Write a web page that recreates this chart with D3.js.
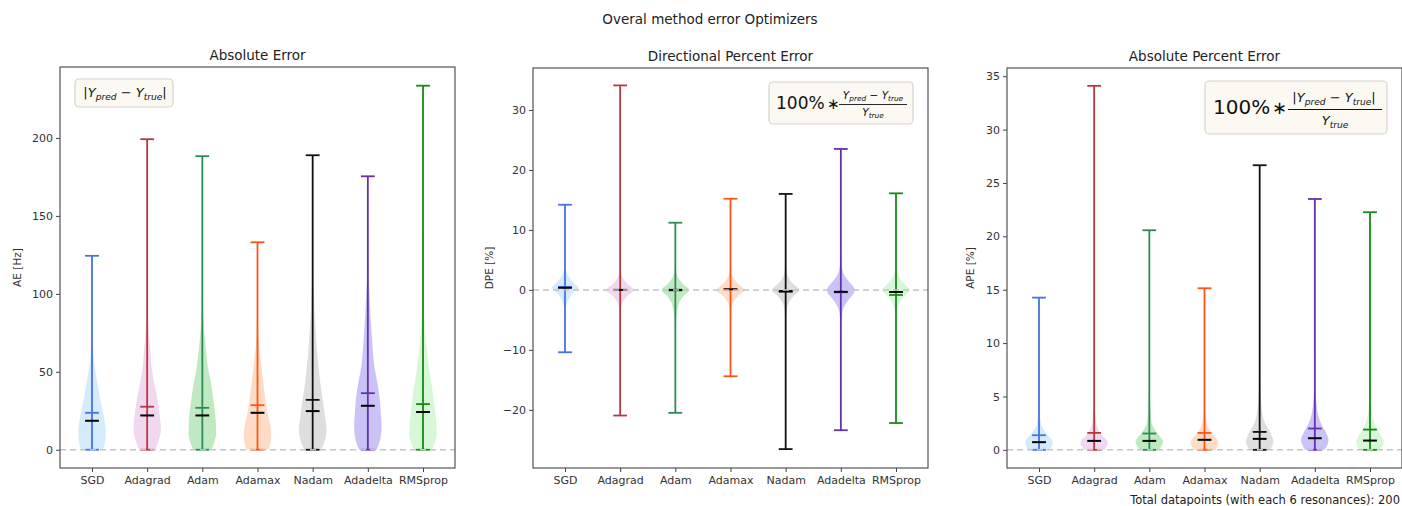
<!DOCTYPE html>
<html>
<head>
<meta charset="utf-8">
<script src="https://cdn.jsdelivr.net/npm/d3@7"></script>
<style>
  body { margin: 0; background: #fff; }
  svg { display: block; font-family: "DejaVu Sans", sans-serif; }
</style>
</head>
<body>
<svg id="fig" width="1402" height="506"></svg>
<script>
// Optimizers compared in every panel
const categories = ["SGD", "Adagrad", "Adam", "Adamax", "Nadam", "Adadelta", "RMSprop"];
const lineColors = ["#4673e0", "#b8393c", "#2e8b57", "#ff5414", "#111111", "#6630b0", "#168a16"];
const fillColors = ["#d4ebfb", "#f1d8f0", "#bfe9c0", "#fcdcc6", "#dedede", "#cac3f6", "#d6f8d6"];

// Absolute error [Hz]
const aeMin    = [0, 0, 0, 0, 0, 0, 0];
const aeMax    = [124.4, 199.2, 188.3, 133.1, 188.9, 175.4, 233.5];
const aeMean   = [23.7, 27.6, 26.9, 28.6, 32.0, 36.3, 29.3];
const aeMedian = [18.6, 22.0, 22.0, 23.7, 24.8, 28.2, 24.2];
const aeTicks  = [0, 50, 100, 150, 200];
// density outline: [value, relative half-width]
const aeProfiles = [
  [[0,0.8],[5,0.95],[11,1],[20,0.88],[32,0.6],[43,0.39],[53,0.2],[62,0.1],[75,0.04],[90,0.02],[110,0.01],[124.4,0]],
  [[0,0.57],[5,0.8],[12.8,1],[21,0.92],[32,0.75],[43,0.51],[53,0.32],[64,0.22],[75,0.12],[85,0.06],[100,0.03],[130,0.01],[199.2,0]],
  [[0,0.65],[5,0.88],[11,1],[21,0.95],[32,0.8],[43,0.62],[53,0.4],[64,0.26],[75,0.14],[85,0.07],[96,0.04],[120,0.02],[150,0.01],[188.3,0]],
  [[0,0.79],[4,0.93],[9,1],[17,0.9],[25.6,0.68],[34,0.55],[43,0.42],[58,0.23],[68.6,0.1],[80,0.05],[100,0.02],[133.1,0]],
  [[0,0.6],[5,0.85],[12.8,1],[21,0.9],[32,0.73],[43,0.55],[53,0.43],[64,0.3],[75,0.23],[85,0.15],[96,0.1],[110,0.05],[140,0.02],[160,0.01],[188.9,0]],
  [[0,0.63],[6,0.88],[14.7,1],[22,0.95],[32,0.87],[43,0.69],[53,0.48],[64,0.36],[75,0.27],[85,0.2],[96,0.14],[110,0.07],[130,0.03],[150,0.01],[175.4,0]],
  [[0,0.66],[5,0.88],[11,1],[21,0.92],[32,0.78],[43,0.6],[53,0.42],[64,0.28],[75,0.17],[85,0.1],[96,0.06],[120,0.03],[160,0.01],[233.5,0]]
];

// Directional percent error [%]
const dpeMin    = [-10.4, -20.95, -20.5, -14.4, -26.55, -23.4, -22.2];
const dpeMax    = [14.2, 34.1, 11.2, 15.2, 16.0, 23.5, 16.1];
const dpeMean   = [0.5, 0.0, -0.1, 0.1, -0.3, -0.4, -0.85];
const dpeMedian = [0.35, 0.0, 0.0, 0.1, -0.2, -0.3, -0.35];
const dpeTicks  = [-20, -10, 0, 10, 20, 30];
const dpeProfiles = [
  [[-10.4,0],[-6,0.01],[-4,0.03],[-3,0.07],[-2,0.18],[-1,0.42],[0,0.8],[0.3,1],[1,0.72],[2,0.33],[3,0.12],[4,0.05],[6,0.02],[10,0.01],[14.2,0]],
  [[-20.95,0],[-10,0.01],[-5,0.02],[-3,0.06],[-2,0.2],[-1,0.52],[0,1],[1,0.52],[2,0.2],[3,0.06],[5,0.02],[15,0.01],[34.1,0]],
  [[-20.5,0],[-8,0.02],[-5,0.05],[-4,0.1],[-3,0.17],[-2,0.3],[-1,0.6],[0,1],[1,0.55],[2,0.22],[3,0.07],[5,0.02],[11.2,0]],
  [[-14.4,0],[-6,0.02],[-3,0.07],[-2,0.22],[-1,0.55],[0,1],[1,0.55],[2,0.22],[3,0.07],[6,0.02],[15.2,0]],
  [[-26.55,0],[-10,0.01],[-5,0.04],[-3,0.1],[-2,0.25],[-1,0.58],[0,1],[1,0.55],[2,0.22],[3,0.08],[5,0.03],[16,0]],
  [[-23.4,0],[-10,0.01],[-5,0.05],[-3.5,0.12],[-2.5,0.3],[-1.5,0.6],[-0.5,0.95],[0,1],[0.5,0.92],[1.5,0.55],[2.5,0.25],[3.5,0.1],[5,0.04],[10,0.01],[23.5,0]],
  [[-22.2,0],[-8,0.02],[-4,0.06],[-3,0.12],[-2,0.3],[-1,0.62],[0,1],[1,0.6],[2,0.28],[3,0.1],[4,0.04],[8,0.01],[16.1,0]]
];

// Absolute percent error [%]
const apeMin    = [0, 0, 0, 0, 0, 0, 0];
const apeMax    = [14.26, 34.1, 20.57, 15.14, 26.66, 23.5, 22.26];
const apeMean   = [1.37, 1.59, 1.53, 1.59, 1.68, 2.0, 1.9];
const apeMedian = [0.72, 0.84, 0.84, 0.94, 1.03, 1.09, 0.87];
const apeTicks  = [0, 5, 10, 15, 20, 25, 30, 35];
const apeProfiles = [
  [[0,0.8],[0.3,0.9],[0.62,1],[0.94,0.93],[1.25,0.73],[1.6,0.5],[2.2,0.2],[2.8,0.1],[4,0.04],[6,0.02],[10,0.01],[14.26,0]],
  [[0,0.75],[0.3,0.88],[0.6,1],[0.95,0.9],[1.3,0.62],[1.87,0.3],[2.8,0.12],[3.75,0.06],[6,0.03],[12,0.01],[34.1,0]],
  [[0,0.7],[0.4,0.9],[0.78,1],[1.2,0.8],[1.7,0.5],[2.2,0.25],[2.8,0.14],[3.75,0.08],[4.7,0.05],[8,0.02],[14,0.01],[20.57,0]],
  [[0,0.8],[0.3,0.92],[0.65,1],[1.0,0.9],[1.4,0.65],[1.9,0.35],[2.6,0.15],[3.5,0.07],[5,0.03],[9,0.01],[15.14,0]],
  [[0,0.75],[0.4,0.92],[0.78,1],[1.2,0.9],[1.7,0.75],[2.2,0.5],[2.8,0.3],[3.4,0.2],[4.05,0.14],[4.7,0.1],[6,0.05],[10,0.02],[18,0.01],[26.66,0]],
  [[0,0.7],[0.5,0.92],[0.94,1],[1.3,0.92],[1.7,0.78],[2.2,0.55],[2.8,0.35],[3.4,0.22],[4.05,0.15],[4.7,0.1],[6,0.05],[10,0.02],[16,0.01],[23.5,0]],
  [[0,0.75],[0.4,0.92],[0.78,1],[1.2,0.85],[1.7,0.6],[2.2,0.4],[2.8,0.25],[3.4,0.15],[4.05,0.1],[5,0.06],[8,0.02],[14,0.01],[22.26,0]]
];

const svg = d3.select("#fig");
const violinHalf = 0.25;   // half of violin width in x units
const capHalf = 0.125;     // half length of extrema / mean / median lines

const panels = [
  { title: "Absolute Error", ylabel: "AE [Hz]", left: 60, right: 455, top: 67, bottom: 468,
    yDomain: [-11.7, 245.5], ticks: aeTicks, min: aeMin, max: aeMax, mean: aeMean, median: aeMedian,
    profiles: aeProfiles, labelX: 17 },
  { title: "Directional Percent Error", ylabel: "DPE [%]", left: 533, right: 928, top: 68, bottom: 468,
    yDomain: [-29.7, 37.0], ticks: dpeTicks, min: dpeMin, max: dpeMax, mean: dpeMean, median: dpeMedian,
    profiles: dpeProfiles, labelX: 489 },
  { title: "Absolute Percent Error", ylabel: "APE [%]", left: 1007, right: 1402, top: 68, bottom: 468,
    yDomain: [-1.7, 35.77], ticks: apeTicks, min: apeMin, max: apeMax, mean: apeMean, median: apeMedian,
    profiles: apeProfiles, labelX: 970 }
];

// figure title
svg.append("text").attr("x", 710).attr("y", 24).attr("text-anchor", "middle")
  .attr("font-size", 13.5).attr("fill", "#222").text("Overal method error Optimizers");

panels.forEach(p => {
  const x = d3.scaleLinear().domain([0.42, 7.58]).range([p.left, p.right]);
  const y = d3.scaleLinear().domain(p.yDomain).range([p.bottom, p.top]);
  const g = svg.append("g");
  const unit = x(1) - x(0);

  // violin bodies
  categories.forEach((c, i) => {
    const cx = x(i + 1);
    const area = d3.area()
      .y(d => y(d[0]))
      .x0(d => cx - d[1] * violinHalf * unit)
      .x1(d => cx + d[1] * violinHalf * unit)
      .curve(d3.curveMonotoneY);
    g.append("path").attr("d", area(p.profiles[i]))
      .attr("fill", fillColors[i]).attr("stroke", "none");
  });

  // extrema bars, means and medians
  categories.forEach((c, i) => {
    const cx = x(i + 1);
    const hl = capHalf * unit;
    const col = lineColors[i];
    g.append("line").attr("x1", cx).attr("x2", cx)
      .attr("y1", y(p.min[i])).attr("y2", y(p.max[i]))
      .attr("stroke", col).attr("stroke-width", 1.8);
    [p.min[i], p.max[i], p.mean[i]].forEach(v => {
      g.append("line").attr("x1", cx - hl).attr("x2", cx + hl)
        .attr("y1", y(v)).attr("y2", y(v))
        .attr("stroke", col).attr("stroke-width", 1.8);
    });
    g.append("line").attr("x1", cx - hl).attr("x2", cx + hl)
      .attr("y1", y(p.median[i])).attr("y2", y(p.median[i]))
      .attr("stroke", "#000").attr("stroke-width", 2);
  });

  // zero reference line
  g.append("line").attr("x1", p.left).attr("x2", p.right)
    .attr("y1", y(0)).attr("y2", y(0))
    .attr("stroke", "#c4c4c4").attr("stroke-width", 1.5).attr("stroke-dasharray", "6,4");

  // frame
  g.append("rect").attr("x", p.left).attr("y", p.top)
    .attr("width", p.right - p.left).attr("height", p.bottom - p.top)
    .attr("fill", "none").attr("stroke", "#444").attr("stroke-width", 1.1);

  // axes
  const yAxis = g.append("g").attr("transform", `translate(${p.left},0)`)
    .call(d3.axisLeft(y).tickValues(p.ticks).tickSize(4).tickPadding(3).tickFormat(d => d < 0 ? "\u2212" + Math.abs(d) : d));
  const xAxis = g.append("g").attr("transform", `translate(0,${p.bottom})`)
    .call(d3.axisBottom(x).tickValues(d3.range(1, 8)).tickSize(4).tickPadding(4).tickFormat(d => categories[d - 1]));
  [yAxis, xAxis].forEach(a => {
    a.select(".domain").remove();
    a.selectAll(".tick line").attr("stroke", "#444");
    a.selectAll(".tick text").attr("font-size", 11).attr("fill", "#333")
      .attr("font-family", "DejaVu Sans, sans-serif");
  });

  // titles
  g.append("text").attr("x", (p.left + p.right) / 2).attr("y", p.top - 7)
    .attr("text-anchor", "middle").attr("font-size", 13.5).attr("fill", "#222").text(p.title);
  g.append("text").attr("transform", `translate(${p.labelX},${(p.top + p.bottom) / 2}) rotate(-90)`)
    .attr("text-anchor", "middle").attr("dy", "0.35em").attr("font-size", 10.5).attr("fill", "#333").text(p.ylabel);
});

// formula boxes
function formulaBox(x, y, w, h) {
  svg.append("rect").attr("x", x).attr("y", y).attr("width", w).attr("height", h)
    .attr("rx", 4).attr("ry", 4).attr("fill", "#fbf9f2").attr("stroke", "#d6d4ca").attr("stroke-width", 1.2);
}
function diffText(parent, x, yb, size, bars, anchor) {
  const t = parent.append("text").attr("x", x).attr("y", yb).attr("text-anchor", anchor || "middle")
    .attr("font-size", size).attr("fill", "#111").attr("font-style", "italic");
  if (bars) t.append("tspan").attr("font-style", "normal").text("|");
  t.append("tspan").text("Y");
  t.append("tspan").attr("font-size", size * 0.7).attr("dy", size * 0.22).text("pred");
  t.append("tspan").attr("dy", -size * 0.22).attr("font-style", "normal").text(" \u2212 ");
  t.append("tspan").text("Y");
  t.append("tspan").attr("font-size", size * 0.7).attr("dy", size * 0.22).text("true");
  if (bars) t.append("tspan").attr("dy", -size * 0.22).attr("font-style", "normal").text("|");
  return t;
}
function trueText(parent, x, yb, size) {
  const t = parent.append("text").attr("x", x).attr("y", yb).attr("text-anchor", "middle")
    .attr("font-size", size).attr("fill", "#111").attr("font-style", "italic");
  t.append("tspan").text("Y");
  t.append("tspan").attr("font-size", size * 0.7).attr("dy", size * 0.22).text("true");
}

// |Y_pred - Y_true|
formulaBox(75, 79, 98, 28);
diffText(svg, 125, 97, 13, true);

// 100% * (Y_pred - Y_true) / Y_true
formulaBox(769, 82, 144, 42);
svg.append("text").attr("x", 776).attr("y", 109).attr("font-size", 17).attr("fill", "#111").text("100%");
svg.append("text").attr("x", 827).attr("y", 109).attr("font-size", 15).attr("fill", "#111").text("\u2217");
diffText(svg, 873, 99, 10.5, false);
svg.append("line").attr("x1", 839).attr("x2", 907).attr("y1", 104.5).attr("y2", 104.5).attr("stroke", "#111").attr("stroke-width", 0.9);
trueText(svg, 873, 116, 10.5);

// 100% * |Y_pred - Y_true| / Y_true
formulaBox(1205, 81, 182, 53);
svg.append("text").attr("x", 1213).attr("y", 114).attr("font-size", 20).attr("fill", "#111").text("100%");
svg.append("text").attr("x", 1272).attr("y", 114).attr("font-size", 18).attr("fill", "#111").text("\u2217");
diffText(svg, 1334, 102, 13, true);
svg.append("line").attr("x1", 1288).attr("x2", 1382).attr("y1", 109.5).attr("y2", 109.5).attr("stroke", "#111").attr("stroke-width", 1);
trueText(svg, 1335, 125, 13);

// footer
svg.append("text").attr("x", 1400).attr("y", 504).attr("text-anchor", "end")
  .attr("font-size", 11.5).attr("fill", "#222").text("Total datapoints (with each 6 resonances): 200");
</script>
</body>
</html>
